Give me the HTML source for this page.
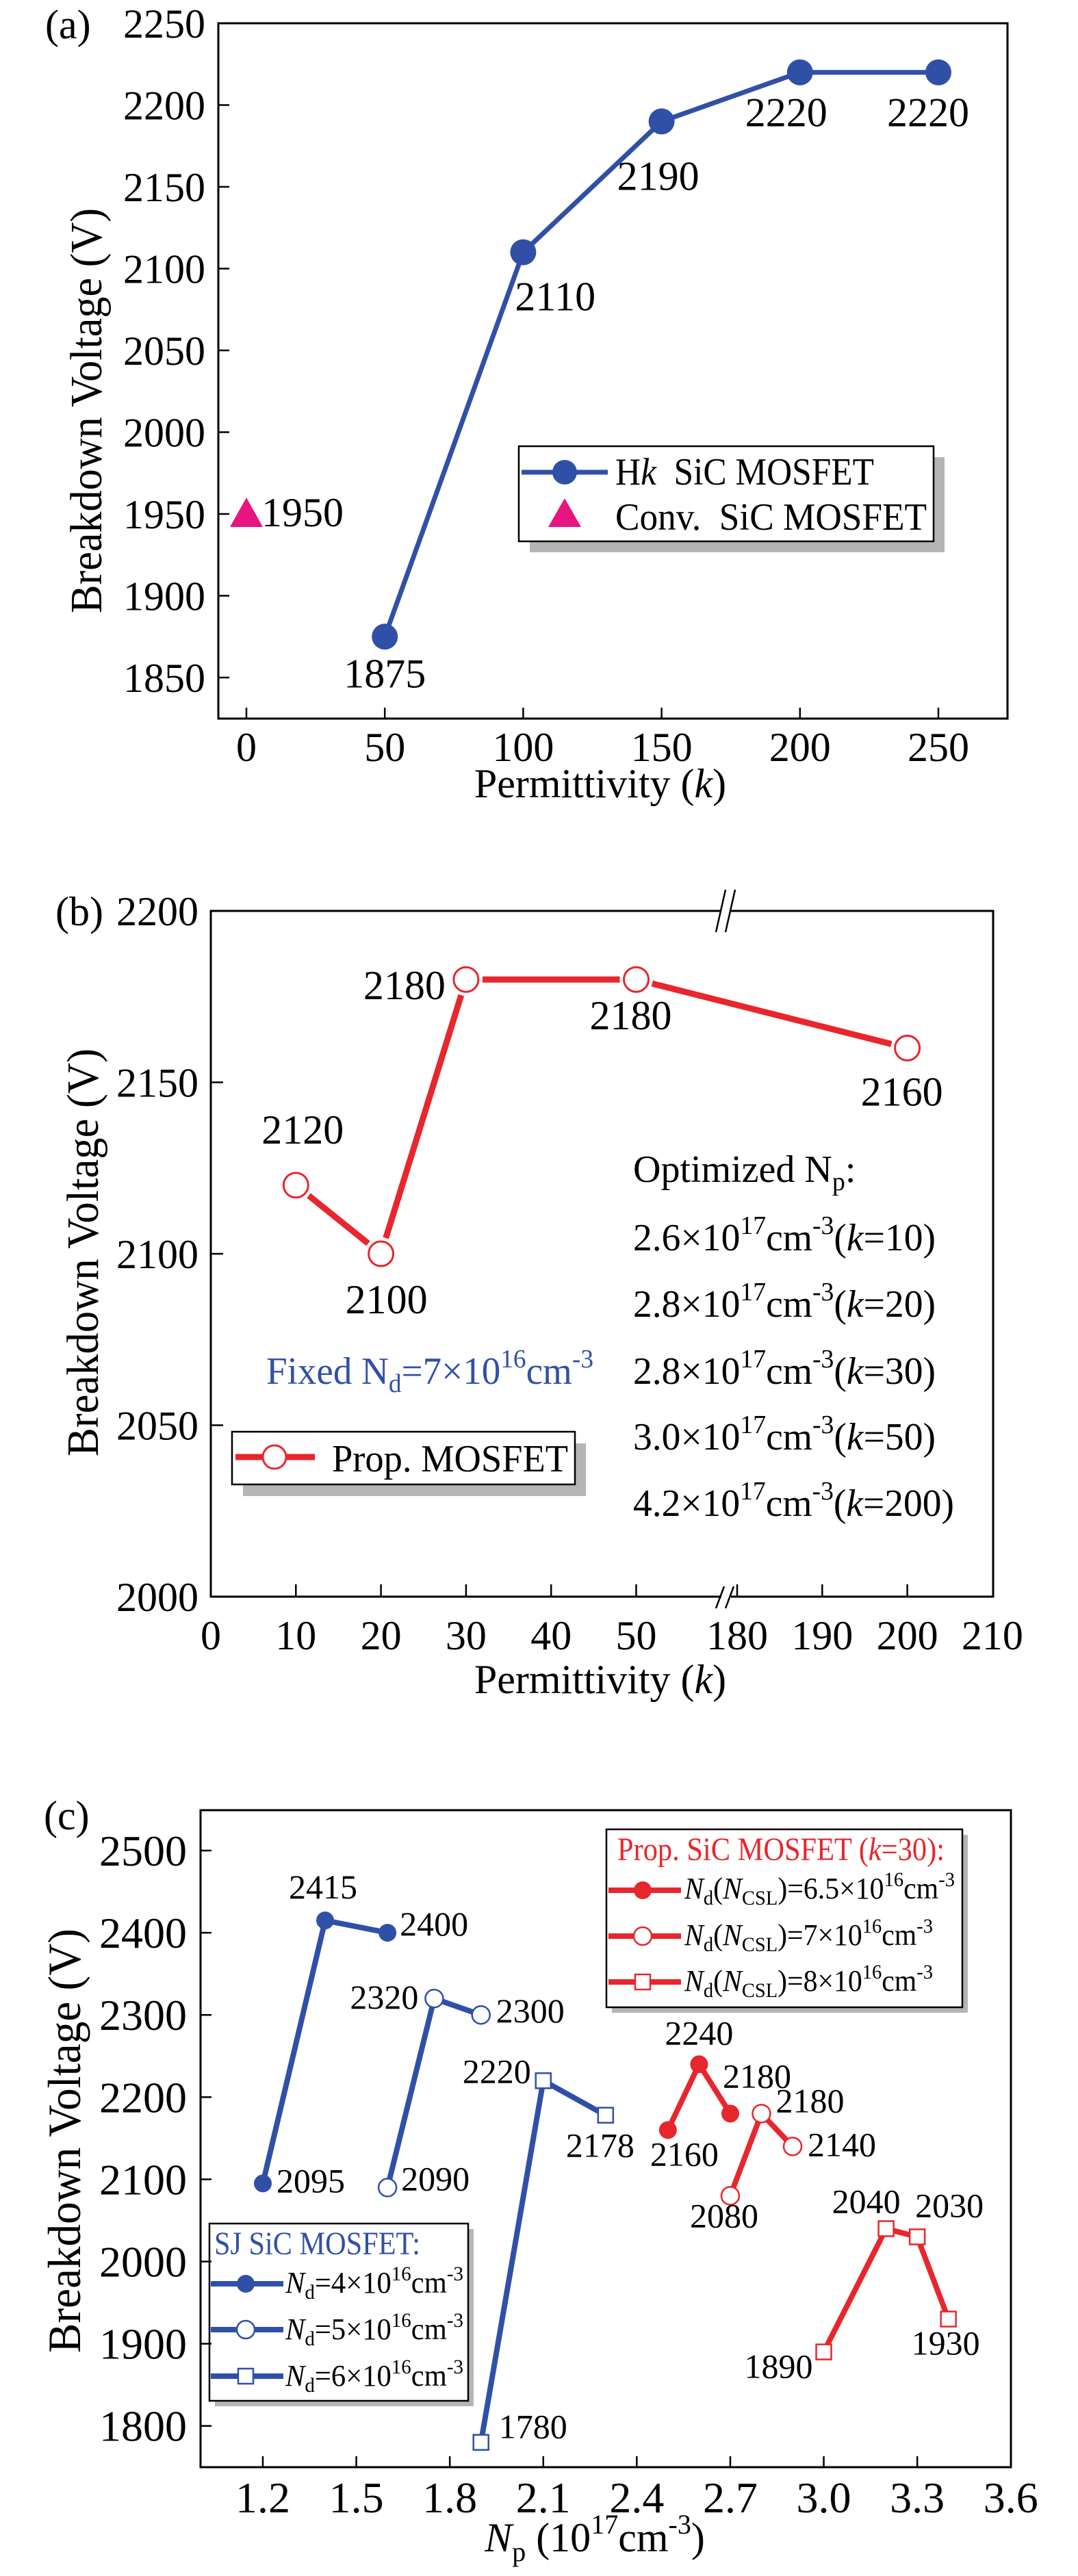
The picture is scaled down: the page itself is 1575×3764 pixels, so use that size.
<!DOCTYPE html>
<html><head><meta charset="utf-8"><title>Breakdown voltage charts</title>
<style>
html,body{margin:0;padding:0;background:#fff;}
svg{display:block;font-family:"Liberation Serif",serif;}
</style></head>
<body>
<svg id="fig" width="1575" height="3764" viewBox="0 0 1575 3764" xmlns="http://www.w3.org/2000/svg">
<rect x="0" y="0" width="1575" height="3764" fill="#fff"/>

<!-- Panel A static -->
<g>
  <text x="66" y="56" font-size="60">(a)</text>
  <rect x="319" y="34" width="1153" height="1016" fill="none" stroke="#000" stroke-width="3"/>
  <text transform="translate(148,600) rotate(-90)" text-anchor="middle" font-size="66" textLength="592" lengthAdjust="spacingAndGlyphs">Breakdown Voltage (V)</text>
  <text x="877" y="1165" text-anchor="middle" font-size="60">Permittivity (<tspan font-style="italic">k</tspan>)</text>
  <g>
    <rect x="774" y="668" width="606" height="139" fill="#b5b5b5"/>
    <rect x="758" y="652" width="606" height="139" fill="#fff" stroke="#000" stroke-width="2.5"/>
    <line x1="762" y1="690" x2="888" y2="690" stroke="#3050a8" stroke-width="7"/>
    <circle cx="825" cy="690" r="18" fill="#3050a8"/>
    <text x="899" y="708" font-size="56" textLength="378" lengthAdjust="spacingAndGlyphs">H<tspan font-style="italic">k</tspan>&#160;&#160;SiC MOSFET</text>
    <polygon points="825,728 801,770 849,770" fill="#e6157f"/>
    <text x="899" y="774" font-size="56" textLength="455" lengthAdjust="spacingAndGlyphs">Conv.&#160;&#160;SiC MOSFET</text>
  </g>
</g>

<!-- Panel B static -->
<g>
  <text x="81" y="1352" font-size="60">(b)</text>
  <rect x="308" y="1331" width="1143" height="1002" fill="none" stroke="#000" stroke-width="3"/>
  <rect x="1054" y="1325" width="14" height="12" fill="#fff"/>
  <rect x="1054" y="2327" width="14" height="12" fill="#fff"/>
  <g stroke="#000" stroke-width="2.5">
    <line x1="1046" y1="1362" x2="1060" y2="1300"/>
    <line x1="1060" y1="1362" x2="1074" y2="1300"/>
    <line x1="1046" y1="2350" x2="1058" y2="2318"/>
    <line x1="1060" y1="2350" x2="1072" y2="2318"/>
  </g>
  <text transform="translate(143,1830) rotate(-90)" text-anchor="middle" font-size="66" textLength="596" lengthAdjust="spacingAndGlyphs">Breakdown Voltage (V)</text>
  <text x="877" y="2474" text-anchor="middle" font-size="60">Permittivity (<tspan font-style="italic">k</tspan>)</text>
  <text x="389" y="2022" font-size="56" fill="#3050a8" textLength="478" lengthAdjust="spacingAndGlyphs">Fixed N<tspan font-size="38" dy="12">d</tspan><tspan dy="-12">=7×10</tspan><tspan font-size="38" dy="-24">16</tspan><tspan dy="24">cm</tspan><tspan font-size="38" dy="-24">-3</tspan></text>
  <g font-size="56">
    <text x="925" y="1727">Optimized N<tspan font-size="38" dy="12">p</tspan><tspan dy="-12">:</tspan></text>
    <text x="925" y="1827" textLength="442" lengthAdjust="spacingAndGlyphs">2.6×10<tspan font-size="38" dy="-24">17</tspan><tspan dy="24">cm</tspan><tspan font-size="38" dy="-24">-3</tspan><tspan dy="24">(</tspan><tspan font-style="italic">k</tspan>=10)</text>
    <text x="925" y="1924" textLength="442" lengthAdjust="spacingAndGlyphs">2.8×10<tspan font-size="38" dy="-24">17</tspan><tspan dy="24">cm</tspan><tspan font-size="38" dy="-24">-3</tspan><tspan dy="24">(</tspan><tspan font-style="italic">k</tspan>=20)</text>
    <text x="925" y="2022" textLength="442" lengthAdjust="spacingAndGlyphs">2.8×10<tspan font-size="38" dy="-24">17</tspan><tspan dy="24">cm</tspan><tspan font-size="38" dy="-24">-3</tspan><tspan dy="24">(</tspan><tspan font-style="italic">k</tspan>=30)</text>
    <text x="925" y="2118" textLength="442" lengthAdjust="spacingAndGlyphs">3.0×10<tspan font-size="38" dy="-24">17</tspan><tspan dy="24">cm</tspan><tspan font-size="38" dy="-24">-3</tspan><tspan dy="24">(</tspan><tspan font-style="italic">k</tspan>=50)</text>
    <text x="925" y="2215" textLength="469" lengthAdjust="spacingAndGlyphs">4.2×10<tspan font-size="38" dy="-24">17</tspan><tspan dy="24">cm</tspan><tspan font-size="38" dy="-24">-3</tspan><tspan dy="24">(</tspan><tspan font-style="italic">k</tspan>=200)</text>
  </g>
  <g>
    <rect x="355" y="2109" width="501" height="77" fill="#b5b5b5"/>
    <rect x="339" y="2092" width="501" height="77" fill="#fff" stroke="#000" stroke-width="2.5"/>
    <line x1="344" y1="2129" x2="460" y2="2129" stroke="#e8262d" stroke-width="9"/>
    <circle cx="401" cy="2129" r="17" fill="#fff" stroke="#e8262d" stroke-width="3"/>
    <text x="485" y="2150" font-size="56" textLength="345" lengthAdjust="spacingAndGlyphs">Prop. MOSFET</text>
  </g>
</g>

<!-- Panel C static -->
<g>
  <text x="64" y="2673" font-size="60">(c)</text>
  <rect x="293" y="2645" width="1184" height="960" fill="none" stroke="#000" stroke-width="3"/>
  <text transform="translate(117,3128) rotate(-90)" text-anchor="middle" font-size="68" textLength="620" lengthAdjust="spacingAndGlyphs">Breakdown Voltage (V)</text>
  <text x="869" y="3728" text-anchor="middle" font-size="60"><tspan font-style="italic">N</tspan><tspan font-size="40" dy="14">p</tspan><tspan dy="-14"> (10</tspan><tspan font-size="40" dy="-26">17</tspan><tspan dy="26">cm</tspan><tspan font-size="40" dy="-26">-3</tspan><tspan dy="26">)</tspan></text>
  <g>
    <rect x="894" y="2681" width="520" height="260" fill="#b5b5b5"/>
    <rect x="886" y="2673" width="520" height="260" fill="#fff" stroke="#000" stroke-width="2.5"/>
    <text x="902" y="2718" font-size="48" fill="#e8262d" textLength="478" lengthAdjust="spacingAndGlyphs">Prop. SiC MOSFET (<tspan font-style="italic">k</tspan>=30):</text>
    <line x1="889" y1="2762" x2="995" y2="2762" stroke="#e8262d" stroke-width="8"/>
    <circle cx="939" cy="2762" r="13" fill="#e8262d"/>
    <text x="1000" y="2774" font-size="44" textLength="395" lengthAdjust="spacingAndGlyphs"><tspan font-style="italic">N</tspan><tspan font-size="30" dy="9">d</tspan><tspan dy="-9">(</tspan><tspan font-style="italic">N</tspan><tspan font-size="30" dy="9">CSL</tspan><tspan dy="-9">)=6.5×10</tspan><tspan font-size="30" dy="-18">16</tspan><tspan dy="18">cm</tspan><tspan font-size="30" dy="-18">-3</tspan></text>
    <line x1="889" y1="2829" x2="995" y2="2829" stroke="#e8262d" stroke-width="8"/>
    <circle cx="939" cy="2829" r="13" fill="#fff" stroke="#e8262d" stroke-width="2.5"/>
    <text x="1000" y="2842" font-size="44" textLength="363" lengthAdjust="spacingAndGlyphs"><tspan font-style="italic">N</tspan><tspan font-size="30" dy="9">d</tspan><tspan dy="-9">(</tspan><tspan font-style="italic">N</tspan><tspan font-size="30" dy="9">CSL</tspan><tspan dy="-9">)=7×10</tspan><tspan font-size="30" dy="-18">16</tspan><tspan dy="18">cm</tspan><tspan font-size="30" dy="-18">-3</tspan></text>
    <line x1="889" y1="2896" x2="995" y2="2896" stroke="#e8262d" stroke-width="8"/>
    <rect x="928" y="2885" width="22" height="22" fill="#fff" stroke="#e8262d" stroke-width="2.5"/>
    <text x="1000" y="2909" font-size="44" textLength="363" lengthAdjust="spacingAndGlyphs"><tspan font-style="italic">N</tspan><tspan font-size="30" dy="9">d</tspan><tspan dy="-9">(</tspan><tspan font-style="italic">N</tspan><tspan font-size="30" dy="9">CSL</tspan><tspan dy="-9">)=8×10</tspan><tspan font-size="30" dy="-18">16</tspan><tspan dy="18">cm</tspan><tspan font-size="30" dy="-18">-3</tspan></text>
  </g>
  <g>
    <rect x="314" y="3257" width="378" height="259" fill="#b5b5b5"/>
    <rect x="306" y="3249" width="378" height="259" fill="#fff" stroke="#000" stroke-width="2.5"/>
    <text x="313" y="3294" font-size="48" fill="#3050a8" textLength="301" lengthAdjust="spacingAndGlyphs">SJ SiC MOSFET:</text>
    <line x1="308" y1="3337" x2="414" y2="3337" stroke="#3050a8" stroke-width="8"/>
    <circle cx="359" cy="3337" r="13" fill="#3050a8"/>
    <text x="417" y="3350" font-size="44" textLength="260" lengthAdjust="spacingAndGlyphs"><tspan font-style="italic">N</tspan><tspan font-size="30" dy="9">d</tspan><tspan dy="-9">=4×10</tspan><tspan font-size="30" dy="-18">16</tspan><tspan dy="18">cm</tspan><tspan font-size="30" dy="-18">-3</tspan></text>
    <line x1="308" y1="3404" x2="414" y2="3404" stroke="#3050a8" stroke-width="8"/>
    <circle cx="359" cy="3404" r="13" fill="#fff" stroke="#3050a8" stroke-width="2.5"/>
    <text x="417" y="3418" font-size="44" textLength="260" lengthAdjust="spacingAndGlyphs"><tspan font-style="italic">N</tspan><tspan font-size="30" dy="9">d</tspan><tspan dy="-9">=5×10</tspan><tspan font-size="30" dy="-18">16</tspan><tspan dy="18">cm</tspan><tspan font-size="30" dy="-18">-3</tspan></text>
    <line x1="308" y1="3472" x2="414" y2="3472" stroke="#3050a8" stroke-width="8"/>
    <rect x="348" y="3461" width="22" height="22" fill="#fff" stroke="#3050a8" stroke-width="2.5"/>
    <text x="417" y="3486" font-size="44" textLength="260" lengthAdjust="spacingAndGlyphs"><tspan font-style="italic">N</tspan><tspan font-size="30" dy="9">d</tspan><tspan dy="-9">=6×10</tspan><tspan font-size="30" dy="-18">16</tspan><tspan dy="18">cm</tspan><tspan font-size="30" dy="-18">-3</tspan></text>
  </g>
</g>
<g id="marks"></g>
</svg>

<script>
// ---------- Panel A data ----------
const aK = [50, 100, 150, 200, 250];
const aV = [1875, 2110, 2190, 2220, 2220];
const aConvK = [0];
const aConvV = [1950];
const aYTicks = [1850, 1900, 1950, 2000, 2050, 2100, 2150, 2200, 2250];
const aXTicks = [0, 50, 100, 150, 200, 250];
// ---------- Panel B data ----------
const bK = [10, 20, 30, 50, 200];
const bV = [2120, 2100, 2180, 2180, 2160];
const bYTicks = [2000, 2050, 2100, 2150, 2200];
const bXTicks = [0, 10, 20, 30, 40, 50, 180, 190, 200, 210];
// ---------- Panel C data ----------
const cYTicks = [1800, 1900, 2000, 2100, 2200, 2300, 2400, 2500];
const cXTicks = [1.2, 1.5, 1.8, 2.1, 2.4, 2.7, 3.0, 3.3, 3.6];
const cXTickLabels = ["1.2", "1.5", "1.8", "2.1", "2.4", "2.7", "3.0", "3.3", "3.6"];
const sj4Np = [1.2, 1.4, 1.6];
const sj4V = [2095, 2415, 2400];
const sj5Np = [1.6, 1.75, 1.9];
const sj5V = [2090, 2320, 2300];
const sj6Np = [1.9, 2.1, 2.3];
const sj6V = [1780, 2220, 2178];
const p65Np = [2.5, 2.6, 2.7];
const p65V = [2160, 2240, 2180];
const p7Np = [2.7, 2.8, 2.9];
const p7V = [2080, 2180, 2140];
const p8Np = [3.0, 3.2, 3.3, 3.4];
const p8V = [1890, 2040, 2030, 1930];

const NS = "http://www.w3.org/2000/svg";
const BLUE = "#3050a8", RED = "#e8262d", MAG = "#e6157f";
const root = document.getElementById("marks");
function mk(tag, attrs) {
  const e = document.createElementNS(NS, tag);
  for (const k in attrs) e.setAttribute(k, attrs[k]);
  root.appendChild(e);
  return e;
}

const xA = k => 360 + k * 4.044;
const yA = v => 34 + (2250 - v) * 2.39;
const xB = k => k <= 60 ? 308 + k * 12.43 : 1077 + (k - 180) * 12.43;
const yB = v => 1331 + (2200 - v) * 5.01;
const xC = n => 384 + (n - 1.2) * 455.3;
const yC = v => 2704 + (2500 - v) * 1.201;

// ---------- Panel A ----------
aYTicks.forEach(v => {
  const t = mk("line", {x1: 319, x2: 335, y1: yA(v), y2: yA(v), stroke: "#000", "stroke-width": 2.5});
  
  
  const l = mk("text", {x: 300, y: yA(v) + 21, "text-anchor": "end", "font-size": 60});
  l.textContent = v;
  
  
});
aXTicks.forEach(k => {
  const t = mk("line", {x1: xA(k), x2: xA(k), y1: 1050, y2: 1034, stroke: "#000", "stroke-width": 2.5});
  
  
  const l = mk("text", {x: xA(k), y: 1112, "text-anchor": "middle", "font-size": 60});
  l.textContent = k;
  
  
});
const aLine = mk("polyline", {points: aK.map((k, i) => xA(k) + "," + yA(aV[i])).join(" "), fill: "none", stroke: BLUE, "stroke-width": 7});


const aLab = [[0, 74, "middle"], [-12, 85, "start"], [-65, 100, "start"], [-80, 79, "start"], [-75, 79, "start"]];
aK.forEach((k, i) => {
  const p = mk("circle", {cx: xA(k), cy: yA(aV[i]), r: 19, fill: BLUE});
  
  
  const l = mk("text", {x: xA(k) + aLab[i][0], y: yA(aV[i]) + aLab[i][1], "text-anchor": aLab[i][2], "font-size": 60});
  l.textContent = aV[i];
  
  
});
aConvK.forEach((k, i) => {
  const x = xA(k), y = yA(aConvV[i]);
  const p = mk("polygon", {points: `${x},${y - 24} ${x - 24},${y + 19} ${x + 24},${y + 19}`, fill: MAG});
  
  
  const l = mk("text", {x: x + 22, y: y + 18, "font-size": 60});
  l.textContent = aConvV[i];
  
  
});

// ---------- Panel B ----------
bYTicks.forEach(v => {
  const t = mk("line", {x1: 308, x2: 326, y1: yB(v), y2: yB(v), stroke: "#000", "stroke-width": 2.5});
  
  
  const l = mk("text", {x: 290, y: yB(v) + 21, "text-anchor": "end", "font-size": 60});
  l.textContent = v;
  
  
});
bXTicks.forEach(k => {
  if (k !== 0 && k !== 210) {
    const t = mk("line", {x1: xB(k), x2: xB(k), y1: 2333, y2: 2315, stroke: "#000", "stroke-width": 2.5});
    
    
  }
  const l = mk("text", {x: xB(k), y: 2410, "text-anchor": "middle", "font-size": 60});
  l.textContent = k;
  
  
});
const bPts = bK.map((k, i) => [xB(k), yB(bV[i])]);
for (let i = 0; i < bPts.length - 1; i++) {
  const [x1, y1] = bPts[i], [x2, y2] = bPts[i + 1];
  const d = Math.hypot(x2 - x1, y2 - y1), r = 24;
  const s = mk("line", {x1: x1 + (x2 - x1) * r / d, y1: y1 + (y2 - y1) * r / d, x2: x2 - (x2 - x1) * r / d, y2: y2 - (y2 - y1) * r / d, stroke: RED, "stroke-width": 9});
  
  
}
const bLab = [[10, -61, "middle"], [8, 87, "middle"], [-30, 29, "end"], [-8, 73, "middle"], [-8, 84, "middle"]];
bPts.forEach(([x, y], i) => {
  const p = mk("circle", {cx: x, cy: y, r: 18, fill: "#fff", stroke: RED, "stroke-width": 3});
  
  
  const l = mk("text", {x: x + bLab[i][0], y: y + bLab[i][1], "text-anchor": bLab[i][2], "font-size": 60});
  l.textContent = bV[i];
  
  
});

// ---------- Panel C ----------
cYTicks.forEach(v => {
  const t = mk("line", {x1: 293, x2: 309, y1: yC(v), y2: yC(v), stroke: "#000", "stroke-width": 2.5});
  
  
  const l = mk("text", {x: 273, y: yC(v) + 22, "text-anchor": "end", "font-size": 64});
  l.textContent = v;
  
  
});
cXTicks.forEach((n, i) => {
  if (i < cXTicks.length - 1) {
    const t = mk("line", {x1: xC(n), x2: xC(n), y1: 3605, y2: 3589, stroke: "#000", "stroke-width": 2.5});
    
    
  }
  const l = mk("text", {x: xC(n), y: 3671, "text-anchor": "middle", "font-size": 64});
  l.textContent = cXTickLabels[i];
  
  
});

function series(name, np, vals, color, marker, labs) {
  const line = mk("polyline", {points: np.map((n, i) => xC(n) + "," + yC(vals[i])).join(" "), fill: "none", stroke: color, "stroke-width": 8});
  
  
  np.forEach((n, i) => {
    const x = xC(n), y = yC(vals[i]);
    let m;
    if (marker === "filled") m = mk("circle", {cx: x, cy: y, r: 13, fill: color});
    else if (marker === "open") m = mk("circle", {cx: x, cy: y, r: 13, fill: "#fff", stroke: color, "stroke-width": 2.5});
    else m = mk("rect", {x: x - 11, y: y - 11, width: 22, height: 22, fill: "#fff", stroke: color, "stroke-width": 2.5});
    
    
    const l = mk("text", {x: x + labs[i][0], y: y + labs[i][1], "text-anchor": labs[i][2], "font-size": 50});
    l.textContent = vals[i];
    
    
  });
}
series("sj-nd4", sj4Np, sj4V, BLUE, "filled", [[20, 13, "start"], [-53, -32, "start"], [18, 4, "start"]]);
series("sj-nd5", sj5Np, sj5V, BLUE, "open", [[20, 4, "start"], [-23, 15, "end"], [22, 11, "start"]]);
series("sj-nd6", sj6Np, sj6V, BLUE, "square", [[26, -6, "start"], [-18, 3, "end"], [-8, 61, "middle"]]);
series("prop-nd6-5", p65Np, p65V, RED, "filled", [[24, 52, "middle"], [0, -29, "middle"], [-11, -38, "start"]]);
series("prop-nd7", p7Np, p7V, RED, "open", [[-9, 46, "middle"], [21, -2, "start"], [22, 14, "start"]]);
series("prop-nd8", p8Np, p8V, RED, "square", [[-66, 38, "middle"], [-29, -23, "middle"], [47, -29, "middle"], [-4, 52, "middle"]]);
</script>
</body></html>
